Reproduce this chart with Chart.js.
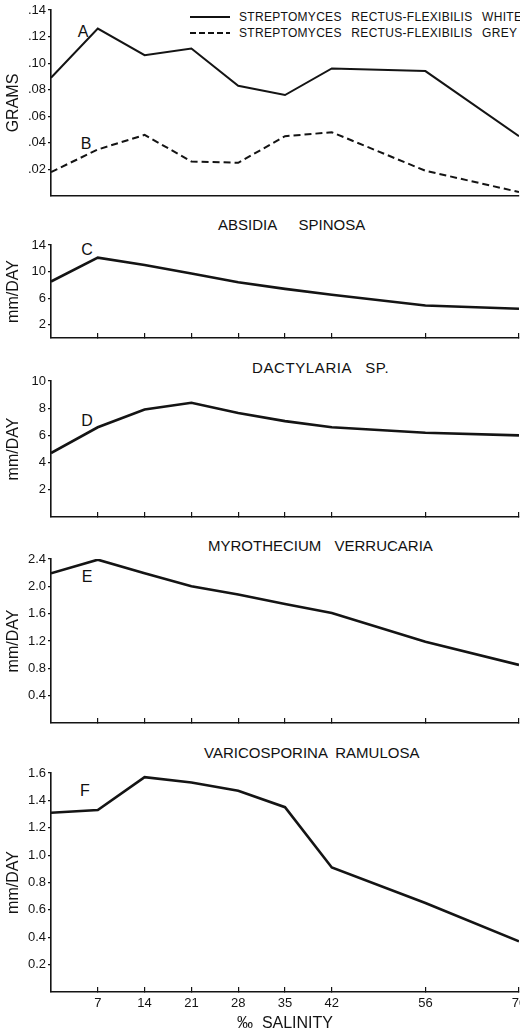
<!DOCTYPE html>
<html>
<head>
<meta charset="utf-8">
<script src="https://cdn.jsdelivr.net/npm/chart.js@4/dist/chart.umd.min.js"></script>
<style>
  html, body { margin:0; padding:0; background:#fff; }
  body { width:520px; height:1034px; overflow:hidden; position:relative; font-family:"Liberation Sans", Arial, sans-serif; color:#111; }
  canvas { position:absolute; left:0; }
  .t { position:absolute; white-space:pre; font-size:15px; line-height:18px; color:#111; }
  .lt { position:absolute; font-size:16px; line-height:18px; color:#111; transform:translate(-50%,-50%); }
  .lg { position:absolute; left:190px; height:16px; line-height:16px; font-size:12px; word-spacing:6px; letter-spacing:0.3px; display:flex; align-items:center; white-space:pre; color:#111; }
  .ln { display:inline-block; width:40px; height:2px; margin-right:9px; }
  .solid { background:#111; }
  .dash { background:repeating-linear-gradient(90deg,#111 0 6px,transparent 6px 9px); }
</style>
</head>
<body>
<div class="lg" style="top:9px"><span class="ln solid"></span><span>STREPTOMYCES RECTUS-FLEXIBILIS WHITE</span></div>
<div class="lg" style="top:25px"><span class="ln dash"></span><span>STREPTOMYCES RECTUS-FLEXIBILIS GREY</span></div>

<div class="t" style="left:218px; top:216px; word-spacing:18px">ABSIDIA SPINOSA</div>
<div class="t" style="left:252px; top:359px; word-spacing:9px; letter-spacing:0.6px">DACTYLARIA SP.</div>
<div class="t" style="left:208px; top:537px; word-spacing:9px">MYROTHECIUM VERRUCARIA</div>
<div class="t" style="left:204px; top:744px; word-spacing:4px">VARICOSPORINA RAMULOSA</div>

<div class="lt" style="left:83px; top:32px">A</div>
<div class="lt" style="left:86px; top:144px">B</div>
<div class="lt" style="left:87px; top:250px">C</div>
<div class="lt" style="left:87px; top:421px">D</div>
<div class="lt" style="left:87px; top:577px">E</div>
<div class="lt" style="left:85px; top:791px">F</div>

<script>
// ---- data ----
const salinity      = [0, 7, 14, 21, 28, 35, 42, 56, 70];
const xTickValues   = [7, 14, 21, 28, 35, 42, 56, 70];

const gramsWhite    = [0.089, 0.126, 0.106, 0.111, 0.083, 0.076, 0.096, 0.094, 0.045];
const gramsGrey     = [0.018, 0.035, 0.046, 0.026, 0.025, 0.045, 0.048, 0.019, 0.003];
const absidia       = [8.5, 12.1, 11.0, 9.7, 8.4, 7.4, 6.5, 4.9, 4.4];
const dactylaria    = [4.7, 6.6, 7.9, 8.4, 7.65, 7.05, 6.6, 6.2, 6.0];
const myrothecium   = [2.19, 2.39, 2.19, 2.0, 1.88, 1.74, 1.61, 1.19, 0.85];
const varicosporina = [1.31, 1.33, 1.57, 1.53, 1.47, 1.35, 0.91, 0.65, 0.37];

const gramsTicks    = [0.02, 0.04, 0.06, 0.08, 0.10, 0.12, 0.14];
const absidiaTicks  = [2, 6, 10, 14];
const dactylTicks   = [2, 4, 6, 8, 10];
const myroTicks     = [0.4, 0.8, 1.2, 1.6, 2.0, 2.4];
const variTicks     = [0.2, 0.4, 0.6, 0.8, 1.0, 1.2, 1.4, 1.6];

const seriesNames = ['STREPTOMYCES RECTUS-FLEXIBILIS WHITE', 'STREPTOMYCES RECTUS-FLEXIBILIS GREY'];

// ---- rendering ----
const INK = '#141414';
Chart.defaults.font.family = '"Liberation Sans", Arial, sans-serif';
Chart.defaults.color = INK;

function fixTicks(values) {
  return scale => { scale.ticks = values.map(v => ({ value: v })); };
}

function panel(cfg) {
  const cv = document.createElement('canvas');
  cv.width = 520; cv.height = cfg.h;
  cv.style.top = cfg.top + 'px';
  cv.style.width = '520px'; cv.style.height = cfg.h + 'px';
  document.body.appendChild(cv);
  const isBottom = !!cfg.bottom;
  new Chart(cv, {
    type: 'line',
    data: {
      datasets: cfg.datasets.map(d => ({
        label: d.label,
        data: d.values.map((v, i) => ({ x: salinity[i], y: v })),
        borderColor: INK,
        borderWidth: d.width,
        borderDash: d.dash || [],
        pointRadius: 0,
        tension: 0,
        fill: false
      }))
    },
    options: {
      responsive: false,
      animation: false,
      devicePixelRatio: 1,
      layout: { padding: { top: 10, left: 0, right: 1, bottom: cfg.padBottom } },
      plugins: { legend: { display: false }, tooltip: { enabled: false } },
      scales: {
        x: {
          type: 'linear', min: 0, max: 70,
          afterBuildTicks: fixTicks(xTickValues),
          afterFit: s => { s.height = cfg.xh; s.paddingLeft = 0; s.paddingRight = 0; },
          grid: { drawOnChartArea: false, drawTicks: cfg.xTicks, tickLength: -5, color: INK, lineWidth: 1.2 },
          border: { display: true, color: INK, width: 1.6 },
          ticks: { display: isBottom, autoSkip: false, maxRotation: 0, padding: 9, font: { size: 13 }, color: INK,
                   callback: v => String(v) },
          title: { display: isBottom, text: '\u2030  SALINITY', font: { size: 16 }, padding: { top: 0, bottom: 1 }, color: INK }
        },
        y: {
          type: 'linear', min: 0, max: cfg.yMax,
          afterBuildTicks: fixTicks(cfg.yTicks),
          afterFit: s => { s.width = 51; s.paddingTop = 0; s.paddingBottom = 0; },
          grid: { drawOnChartArea: false, tickLength: 3, color: INK, lineWidth: 1.2 },
          border: { display: true, color: INK, width: 1.6 },
          ticks: { padding: 2, font: { size: 13 }, color: INK, callback: cfg.fmt },
          title: { display: true, text: cfg.yTitle, font: { size: 16 }, padding: { top: 4, bottom: 0 }, color: INK }
        }
      }
    }
  });
}

panel({ top: 0, h: 200, padBottom: 4, xh: 0, xTicks: false, yMax: 0.14, yTicks: gramsTicks,
        fmt: v => v.toFixed(2).replace(/^0/, ''), yTitle: 'GRAMS',
        datasets: [ { label: seriesNames[0], values: gramsWhite, width: 2 },
                    { label: seriesNames[1], values: gramsGrey, width: 2, dash: [7, 4] } ] });

panel({ top: 235, h: 107, padBottom: 4, xh: 0, xTicks: true, yMax: 14, yTicks: absidiaTicks,
        fmt: v => String(v), yTitle: 'mm/DAY',
        datasets: [ { label: 'ABSIDIA SPINOSA', values: absidia, width: 2.6 } ] });

panel({ top: 371, h: 150, padBottom: 4, xh: 0, xTicks: true, yMax: 10, yTicks: dactylTicks,
        fmt: v => String(v), yTitle: 'mm/DAY',
        datasets: [ { label: 'DACTYLARIA SP.', values: dactylaria, width: 2.6 } ] });

panel({ top: 549, h: 178, padBottom: 4, xh: 0, xTicks: true, yMax: 2.4, yTicks: myroTicks,
        fmt: v => v.toFixed(1), yTitle: 'mm/DAY',
        datasets: [ { label: 'MYROTHECIUM VERRUCARIA', values: myrothecium, width: 2.6 } ] });

panel({ top: 763, h: 271, padBottom: 0, xh: 42, xTicks: true, bottom: true, yMax: 1.6, yTicks: variTicks,
        fmt: v => v.toFixed(1), yTitle: 'mm/DAY',
        datasets: [ { label: 'VARICOSPORINA RAMULOSA', values: varicosporina, width: 2.6 } ] });
</script>
</body>
</html>
